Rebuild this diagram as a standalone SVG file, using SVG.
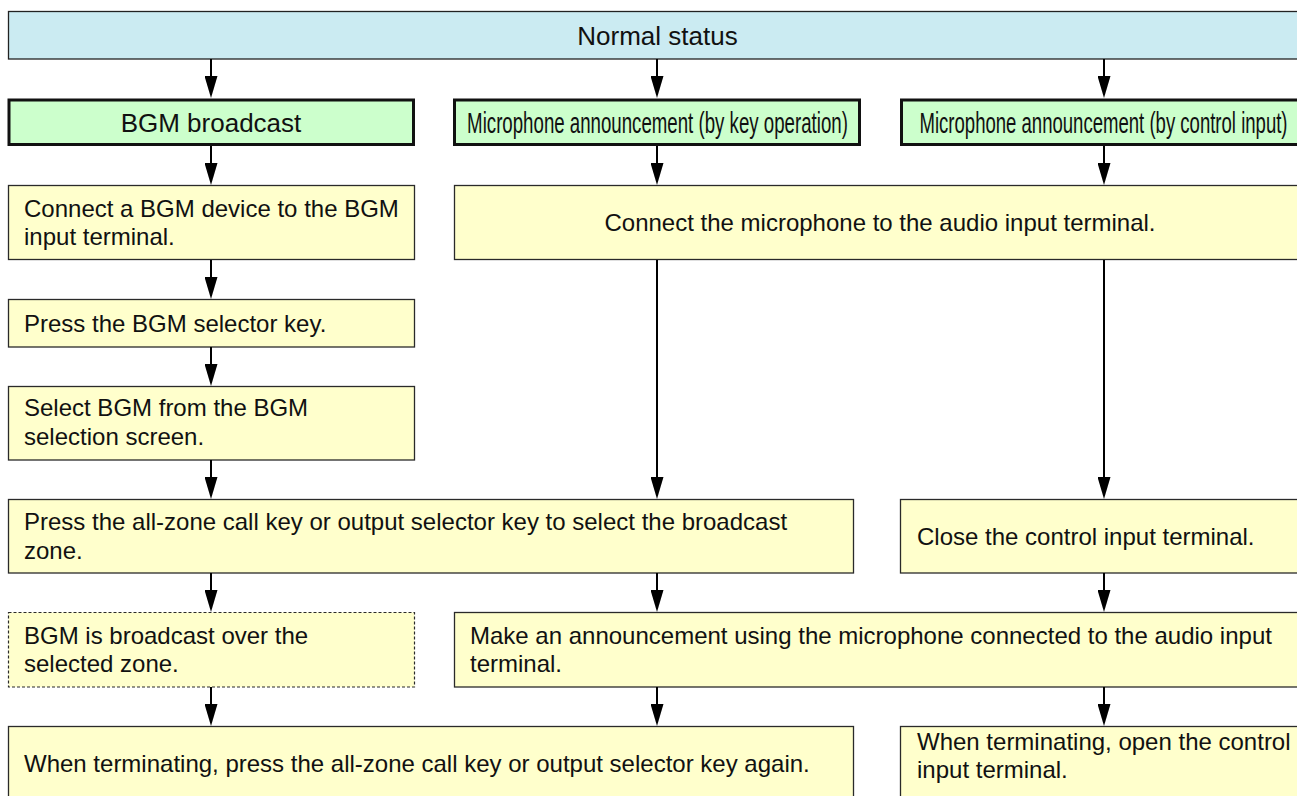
<svg xmlns="http://www.w3.org/2000/svg" width="1297" height="796" viewBox="0 0 1297 796">
<style>
text{font-family:"Liberation Sans",Arial,Helvetica,sans-serif;fill:#111;}
.body{font-size:24px;}
.title{font-size:26px;}
.cond{font-size:29px;}
.blue{fill:#cbebf2;stroke:#222;stroke-width:1.3;}
.green{fill:#ccffcc;stroke:#111;stroke-width:3;}
.yel{fill:#ffffcc;stroke:#2a2a2a;stroke-width:1.3;}
.dash{fill:#ffffcc;stroke:#2a2a2a;stroke-width:1.2;stroke-dasharray:3 2;}
.conn line{stroke:#000;stroke-width:2;marker-end:url(#ah);}
</style>
<defs>
<marker id="ah" viewBox="0 0 22 13" refX="14" refY="6.5" markerWidth="22" markerHeight="13" markerUnits="userSpaceOnUse" orient="auto">
<path d="M0,0 L22,6.5 L0,13 z" fill="#000"/>
</marker>
</defs>
<rect width="1297" height="796" fill="#fff"/>
<g id="normal"><rect class="blue" x="8.5" y="11.5" width="1300" height="47.5"/><text class="title" x="657.5" y="45" text-anchor="middle">Normal status</text></g>
<g id="bgm"><rect class="green" x="9" y="100" width="404.5" height="44.5"/><text class="title" x="211" y="131.7" text-anchor="middle">BGM broadcast</text></g>
<g id="mickey"><rect class="green" x="454.5" y="100" width="405" height="44.5"/><text class="cond" transform="translate(657.5,132.5) scale(0.644,1)" x="0" y="0" text-anchor="middle">Microphone announcement (by key operation)</text></g>
<g id="micctl"><rect class="green" x="901.5" y="100" width="410" height="44.5"/><text class="cond" transform="translate(1103.5,132.5) scale(0.64,1)" x="0" y="0" text-anchor="middle">Microphone announcement (by control input)</text></g>
<g id="connbgm"><rect class="yel" x="8.5" y="185.5" width="406" height="74"/><text class="body" x="24" y="216.5">Connect a BGM device to the BGM</text><text class="body" x="24" y="244.5">input terminal.</text></g>
<g id="connmic"><rect class="yel" x="454.5" y="185.5" width="860" height="74"/><text class="body" x="880" y="231" text-anchor="middle">Connect the microphone to the audio input terminal.</text></g>
<g id="presssel"><rect class="yel" x="8.5" y="299.5" width="406" height="47.5"/><text class="body" x="24" y="331.5">Press the BGM selector key.</text></g>
<g id="selbgm"><rect class="yel" x="8.5" y="386.5" width="406" height="73.5"/><text class="body" x="24" y="416">Select BGM from the BGM</text><text class="body" x="24" y="444.5">selection screen.</text></g>
<g id="pressall"><rect class="yel" x="8.5" y="499.5" width="845" height="73.5"/><text class="body" x="24" y="530">Press the all-zone call key or output selector key to select the broadcast</text><text class="body" x="24" y="558.5">zone.</text></g>
<g id="closectl"><rect class="yel" x="900.5" y="499.5" width="410" height="73.5"/><text class="body" x="917" y="545">Close the control input terminal.</text></g>
<g id="bgmcast"><rect class="dash" x="8.5" y="612.5" width="406" height="74.5"/><text class="body" x="24" y="644">BGM is broadcast over the</text><text class="body" x="24" y="672">selected zone.</text></g>
<g id="announce"><rect class="yel" x="454.5" y="612.5" width="860" height="74.5"/><text class="body" x="470" y="644">Make an announcement using the microphone connected to the audio input</text><text class="body" x="470" y="672">terminal.</text></g>
<g id="termleft"><rect class="yel" x="8.5" y="726.5" width="845" height="80"/><text class="body" x="24" y="772">When terminating, press the all-zone call key or output selector key again.</text></g>
<g id="termright"><rect class="yel" x="900.5" y="726.5" width="410" height="80"/><text class="body" x="917" y="750">When terminating, open the control</text><text class="body" x="917" y="778">input terminal.</text></g>
<g id="connectors" class="conn">
<line x1="211" y1="59" x2="211" y2="90"/>
<line x1="211" y1="146" x2="211" y2="177"/>
<line x1="211" y1="260" x2="211" y2="291"/>
<line x1="211" y1="347" x2="211" y2="378"/>
<line x1="211" y1="460" x2="211" y2="491"/>
<line x1="211" y1="573" x2="211" y2="604"/>
<line x1="211" y1="687" x2="211" y2="718"/>
<line x1="657" y1="59" x2="657" y2="90"/>
<line x1="657" y1="146" x2="657" y2="177"/>
<line x1="657" y1="260" x2="657" y2="491"/>
<line x1="657" y1="573" x2="657" y2="604"/>
<line x1="657" y1="687" x2="657" y2="718"/>
<line x1="1104" y1="59" x2="1104" y2="90"/>
<line x1="1104" y1="146" x2="1104" y2="177"/>
<line x1="1104" y1="260" x2="1104" y2="491"/>
<line x1="1104" y1="573" x2="1104" y2="604"/>
<line x1="1104" y1="687" x2="1104" y2="718"/>
</g>
</svg>
